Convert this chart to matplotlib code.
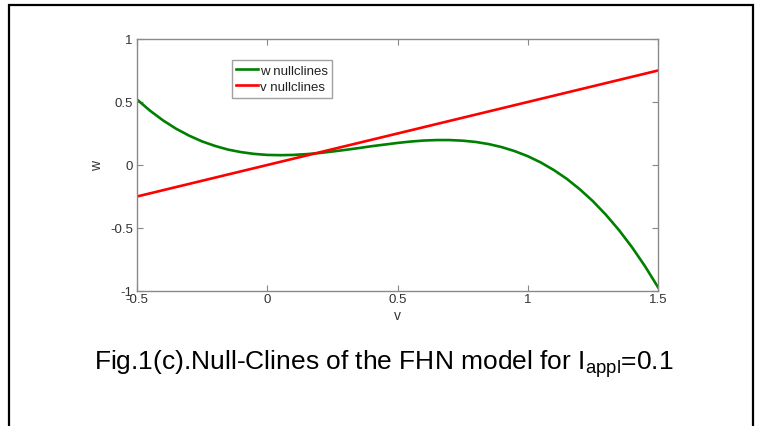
import matplotlib
matplotlib.use("Agg")
import matplotlib.pyplot as plt
from matplotlib.patches import Rectangle

plt.rcParams['font.family'] = ['Liberation Sans', 'DejaVu Sans']
plt.rcParams['mathtext.fontset'] = 'custom'
plt.rcParams['mathtext.rm'] = 'Liberation Sans'
plt.rcParams['mathtext.it'] = 'Liberation Sans'

# --- data ---
v_w = [-0.50, -0.45, -0.40, -0.35, -0.30, -0.25, -0.20, -0.15, -0.10, -0.05,
       0.00, 0.05, 0.10, 0.15, 0.20, 0.25, 0.30, 0.35, 0.40, 0.45,
       0.50, 0.55, 0.60, 0.65, 0.70, 0.75, 0.80, 0.85, 0.90, 0.95,
       1.00, 1.05, 1.10, 1.15, 1.20, 1.25, 1.30, 1.35, 1.40, 1.45, 1.50]
w_nullcline = [0.520, 0.431, 0.354, 0.288, 0.233, 0.187, 0.151, 0.122, 0.102, 0.088,
               0.080, 0.078, 0.080, 0.086, 0.095, 0.107, 0.120, 0.134, 0.149, 0.162,
               0.175, 0.186, 0.194, 0.198, 0.198, 0.193, 0.183, 0.166, 0.142, 0.110,
               0.070, 0.020, -0.040, -0.110, -0.193, -0.287, -0.395, -0.516, -0.652, -0.803, -0.970]
v_v = [-0.5, 1.5]
v_nullcline = [-0.25, 0.75]

x_ticks = [-0.5, 0, 0.5, 1, 1.5]
x_ticklabels = ['-0.5', '0', '0.5', '1', '1.5']
y_ticks = [-1, -0.5, 0, 0.5, 1]
y_ticklabels = ['-1', '-0.5', '0', '0.5', '1']
legend_labels = ['w nullclines', 'v nullclines']
caption = r"Fig.1(c).Null-Clines of the FHN model for I$_{\mathrm{appl}}$=0.1"

W, H = 762, 427
fig = plt.figure(figsize=(W / 100, H / 100), dpi=100)
fig.patch.set_facecolor('white')

# outer border
fig.add_artist(Rectangle((9 / W, -0.05), (753 - 9) / W, 1 - 6 / H + 0.05,
                         transform=fig.transFigure, fill=False,
                         edgecolor='black', linewidth=1.6))

ax = fig.add_axes([137 / W, 1 - 292 / H, (658 - 137) / W, (292 - 40) / H])
ax.plot(v_w, w_nullcline, color=(0, 0.5, 0), linewidth=1.9, label=legend_labels[0])
ax.plot(v_v, v_nullcline, color=(1, 0, 0), linewidth=1.9, label=legend_labels[1])

ax.set_xlim(-0.5, 1.5)
ax.set_ylim(-1, 1)
ax.set_xticks(x_ticks)
ax.set_xticklabels(x_ticklabels)
ax.set_yticks(y_ticks)
ax.set_yticklabels(y_ticklabels)
ax.tick_params(direction='in', length=4, width=0.8, color='#888888',
               labelsize=9.5, labelcolor='#333333', top=True, right=True)
ax.tick_params(axis='x', pad=1.5)
ax.tick_params(axis='y', pad=3)
for s in ax.spines.values():
    s.set_color('#8a8a8a')
    s.set_linewidth(1.0)

ax.set_xlabel('v', fontsize=10, color='#333333', labelpad=2)
ax.set_ylabel('w', fontsize=10, color='#333333', labelpad=4)

leg = ax.legend(loc='upper left', bbox_to_anchor=(0.182, 0.917), fontsize=9.5,
                frameon=True, fancybox=False, handlelength=1.6, handletextpad=0.15,
                borderpad=0.35, labelspacing=0.3, borderaxespad=0)
leg.get_frame().set_edgecolor('#8a8a8a')
leg.get_frame().set_linewidth(1.0)
for t in leg.get_texts():
    t.set_color('#222222')

fig.text(384 / W, 1 - 364 / H, caption, ha='center', va='center', fontsize=19, color='black')

fig.savefig('out.png', dpi=100)
